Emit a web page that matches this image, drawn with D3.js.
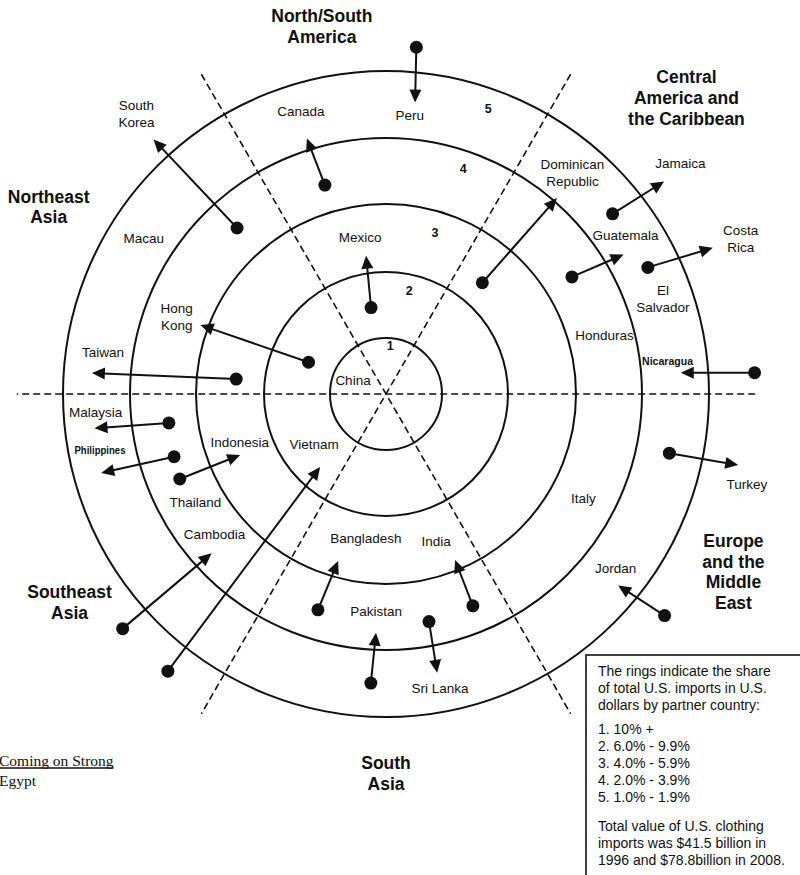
<!DOCTYPE html>
<html>
<head>
<meta charset="utf-8">
<script src="https://cdn.jsdelivr.net/npm/d3@7"></script>
<style>
  body { margin: 0; background: #fff; }
  svg { display: block; }
</style>
</head>
<body>
<svg id="chart" width="800" height="875"></svg>
<script>
// ---- data -------------------------------------------------------------
// Rings: share of total U.S. clothing imports, by partner country
const ringLevels = [1, 2, 3, 4, 5];
const ringLabels = ["1", "2", "3", "4", "5"];
// [angle in degrees clockwise from north, radial position in ring units]
const ringLabelPos = [[5, 0.86], [12.6, 1.76], [16.9, 2.68], [18.9, 3.73], [19.7, 4.71]];

// Region dividers (angles, degrees)
const dividerAngles = [90, 30, -30];
const dividerReach = 5.7;

// Regions
const regionNames = [
  "North/South\nAmerica",
  "Northeast\nAsia",
  "Central\nAmerica and\nthe Caribbean",
  "Southeast\nAsia",
  "South\nAsia",
  "Europe\nand the\nMiddle\nEast"
];
const regionPos = [[-9.9, 5.76], [-61, 5.95], [45.4, 6.5], [-123.4, 5.85], [180, 5.85], [117.1, 6.02]];

// Countries whose ring position moved (dot = from, arrowhead = to)
const movers = [
  "Peru", "Canada", "South Korea", "Mexico", "Hong Kong", "Taiwan", "Malaysia",
  "Philippines", "Indonesia", "Cambodia", "Vietnam", "Bangladesh", "India",
  "Pakistan", "Sri Lanka", "Jordan", "Turkey", "Nicaragua", "Costa Rica",
  "Guatemala", "Jamaica", "Dominican Republic"
];
const moveFrom = [
  [5.0, 5.38], [-16.3, 3.42], [-41.9, 3.5], [-9.8, 1.48], [-67.7, 1.42], [-84.3, 2.42],
  [-97.6, 3.44], [-106.5, 3.47], [-112.4, 3.5], [-131.7, 5.45], [-141.8, 5.45],
  [-162.5, 3.55], [157.7, 3.59], [-177, 4.5], [169.3, 3.63], [128.5, 5.5],
  [101.8, 4.5], [86.7, 5.7], [64.2, 4.52], [57.8, 3.45], [51.5, 4.5], [40.9, 2.37]
];
const moveTo = [
  [5.7, 4.55], [-17.2, 4.17], [-42.4, 5.33], [-8.2, 2.26], [-69.6, 3.12], [-85.9, 4.58],
  [-96.7, 4.56], [-105.5, 4.59], [-112.7, 2.53], [-132.4, 3.7], [-137.9, 1.64],
  [-164, 2.76], [157.4, 2.85], [-177.6, 3.74], [169.6, 4.41], [129.5, 4.67],
  [101.4, 5.55], [85.9, 4.59], [65.9, 5.53], [59.6, 4.29], [52.6, 5.41], [41.1, 4.06]
];

// Country labels
const countryNames = [
  "Peru", "Canada", "South\nKorea", "Macau", "Mexico", "Hong\nKong", "Taiwan",
  "Malaysia", "Philippines", "Thailand", "Indonesia", "Cambodia", "Vietnam",
  "Bangladesh", "India", "Pakistan", "Sri Lanka", "Jordan", "Italy", "Turkey",
  "Nicaragua", "Honduras", "El\nSalvador", "Costa\nRica", "Guatemala", "Jamaica",
  "Dominican\nRepublic", "China"
];
const countryPos = [
  [4.9, 4.35], [-16.8, 4.58], [-41.7, 5.79], [-57.2, 4.48], [-9.4, 2.54], [-69.8, 3.5],
  [-81.6, 4.45], [-93.6, 4.52], [-101.1, 4.53], [-119.5, 3.44], [-108.2, 2.47],
  [-129.3, 3.48], [-124.8, 1.48], [-172.1, 2.35], [161.2, 2.49], [-177.4, 3.42],
  [169.6, 4.65], [127.2, 4.48], [117.8, 3.5], [104, 5.74], [83.3, 4.41], [74.9, 3.55],
  [71, 4.55], [66.4, 5.97], [56.4, 4.47], [51.96, 5.77], [40.1, 4.5], [-67, 0.64]
];
// labels set in a tiny condensed bold face
const condensedLabels = ["Philippines", "Nicaragua"];

// Notes
const sideNote = ["Coming on Strong", "Egypt"];
const legendGroups = [
  ["The rings indicate the share", "of total U.S. imports in U.S.", "dollars by partner country:"],
  ["1. 10% +", "2. 6.0% - 9.9%", "3. 4.0% - 5.9%", "4. 2.0% - 3.9%", "5. 1.0% - 1.9%"],
  ["Total value of U.S. clothing", "imports was $41.5 billion in", "1996 and $78.8billion in 2008."]
];

// ---- layout -----------------------------------------------------------
const svg = d3.select("#chart");
const cx = 386, cy = 394;
const ink = "#111";
const sans = "'Liberation Sans', Arial, Helvetica, sans-serif";

const radius = d3.scaleLinear()
  .domain([0, 1, 2, 3, 4, 5, 6, 7])
  .range([0, 56, 122, 190, 256, 323, 389, 455]);
const angle = d3.scaleLinear().domain([0, 360]).range([0, 2 * Math.PI]);
const pt = ([a, r]) => d3.pointRadial(angle(a), radius(r));

const g = svg.append("g").attr("transform", `translate(${cx},${cy})`);

// rings
g.append("g").selectAll("circle").data(ringLevels).join("circle")
  .attr("r", d => radius(d))
  .attr("fill", "none").attr("stroke", ink).attr("stroke-width", 2);

// dashed region dividers
g.append("g").selectAll("line").data(dividerAngles).join("line")
  .each(function(a) {
    const p1 = pt([a, dividerReach]), p2 = pt([a + 180, dividerReach]);
    d3.select(this).attr("x1", p1[0]).attr("y1", p1[1]).attr("x2", p2[0]).attr("y2", p2[1]);
  })
  .attr("stroke", ink).attr("stroke-width", 1.6).attr("stroke-dasharray", "7,4");

// ring numbers
g.append("g").selectAll("text").data(ringLabels).join("text")
  .attr("x", (d, i) => pt(ringLabelPos[i])[0])
  .attr("y", (d, i) => pt(ringLabelPos[i])[1])
  .attr("dy", "0.35em").attr("text-anchor", "middle")
  .attr("font-family", sans).attr("font-weight", "bold").attr("font-size", 12.5)
  .attr("fill", ink).text(d => d);

// arrows
const headLen = 13, headHalf = 6;
const arrows = g.append("g").selectAll("g").data(movers).join("g");
arrows.each(function(d, i) {
  const s = pt(moveFrom[i]), e = pt(moveTo[i]);
  const ang = Math.atan2(e[1] - s[1], e[0] - s[0]);
  const ux = Math.cos(ang), uy = Math.sin(ang);
  const bx = e[0] - ux * headLen, by = e[1] - uy * headLen;
  const sel = d3.select(this);
  sel.append("line")
    .attr("x1", s[0]).attr("y1", s[1]).attr("x2", bx + ux * 2).attr("y2", by + uy * 2)
    .attr("stroke", ink).attr("stroke-width", 2);
  sel.append("path")
    .attr("d", d3.line()([[e[0], e[1]], [bx - uy * headHalf, by + ux * headHalf], [bx + uy * headHalf, by - ux * headHalf]]) + "Z")
    .attr("fill", ink);
  sel.append("circle").attr("cx", s[0]).attr("cy", s[1]).attr("r", 6.5).attr("fill", ink);
});

// multi-line text helper
function multiline(sel, lineHeight) {
  sel.each(function(d) {
    const t = d3.select(this);
    const lines = d.split("\n");
    const off = -(lines.length - 1) / 2 * lineHeight;
    lines.forEach((ln, k) => {
      t.append("tspan").attr("x", t.attr("x"))
        .attr("y", +t.attr("y") + off + k * lineHeight)
        .attr("dy", "0.35em").text(ln);
    });
  });
}

// country labels
g.append("g").selectAll("text").data(countryNames).join("text")
  .attr("x", (d, i) => pt(countryPos[i])[0])
  .attr("y", (d, i) => pt(countryPos[i])[1])
  .attr("text-anchor", "middle")
  .attr("font-family", sans).attr("fill", ink)
  .attr("font-size", d => condensedLabels.includes(d) ? 10.5 : 13.5)
  .attr("font-weight", d => condensedLabels.includes(d) ? "bold" : "normal")
  .call(multiline, 17)
  .filter(d => condensedLabels.includes(d))
  .selectAll("tspan").attr("textLength", 51).attr("lengthAdjust", "spacingAndGlyphs");

// region labels
g.append("g").selectAll("text").data(regionNames).join("text")
  .attr("x", (d, i) => pt(regionPos[i])[0])
  .attr("y", (d, i) => pt(regionPos[i])[1])
  .attr("text-anchor", "middle")
  .attr("font-family", sans).attr("font-weight", "bold").attr("font-size", 17.5)
  .attr("fill", ink)
  .call(multiline, 20.7);

// side note
const note = svg.append("g").attr("font-family", "'Liberation Serif', 'Times New Roman', serif")
  .attr("font-size", 15.5).attr("fill", ink);
note.selectAll("text").data(sideNote).join("text")
  .attr("x", -1).attr("y", (d, i) => 766 + i * 20).text(d => d);
const noteW = note.select("text").node().getComputedTextLength();
note.append("line").attr("x1", -1).attr("x2", noteW - 1).attr("y1", 768).attr("y2", 768)
  .attr("stroke", ink).attr("stroke-width", 1.3);

// legend box
const lg = svg.append("g");
lg.append("rect").attr("x", 586).attr("y", 655).attr("width", 230).attr("height", 240)
  .attr("fill", "#fff").attr("stroke", ink).attr("stroke-width", 1.6);
const groupTop = [671, 729, 826];
legendGroups.forEach((grp, gi) => {
  lg.append("g").selectAll("text").data(grp).join("text")
    .attr("x", 598).attr("y", (d, i) => groupTop[gi] + i * 17)
    .attr("dy", "0.35em")
    .attr("font-family", sans).attr("font-size", 14).attr("fill", ink)
    .text(d => d);
});
</script>
</body>
</html>
